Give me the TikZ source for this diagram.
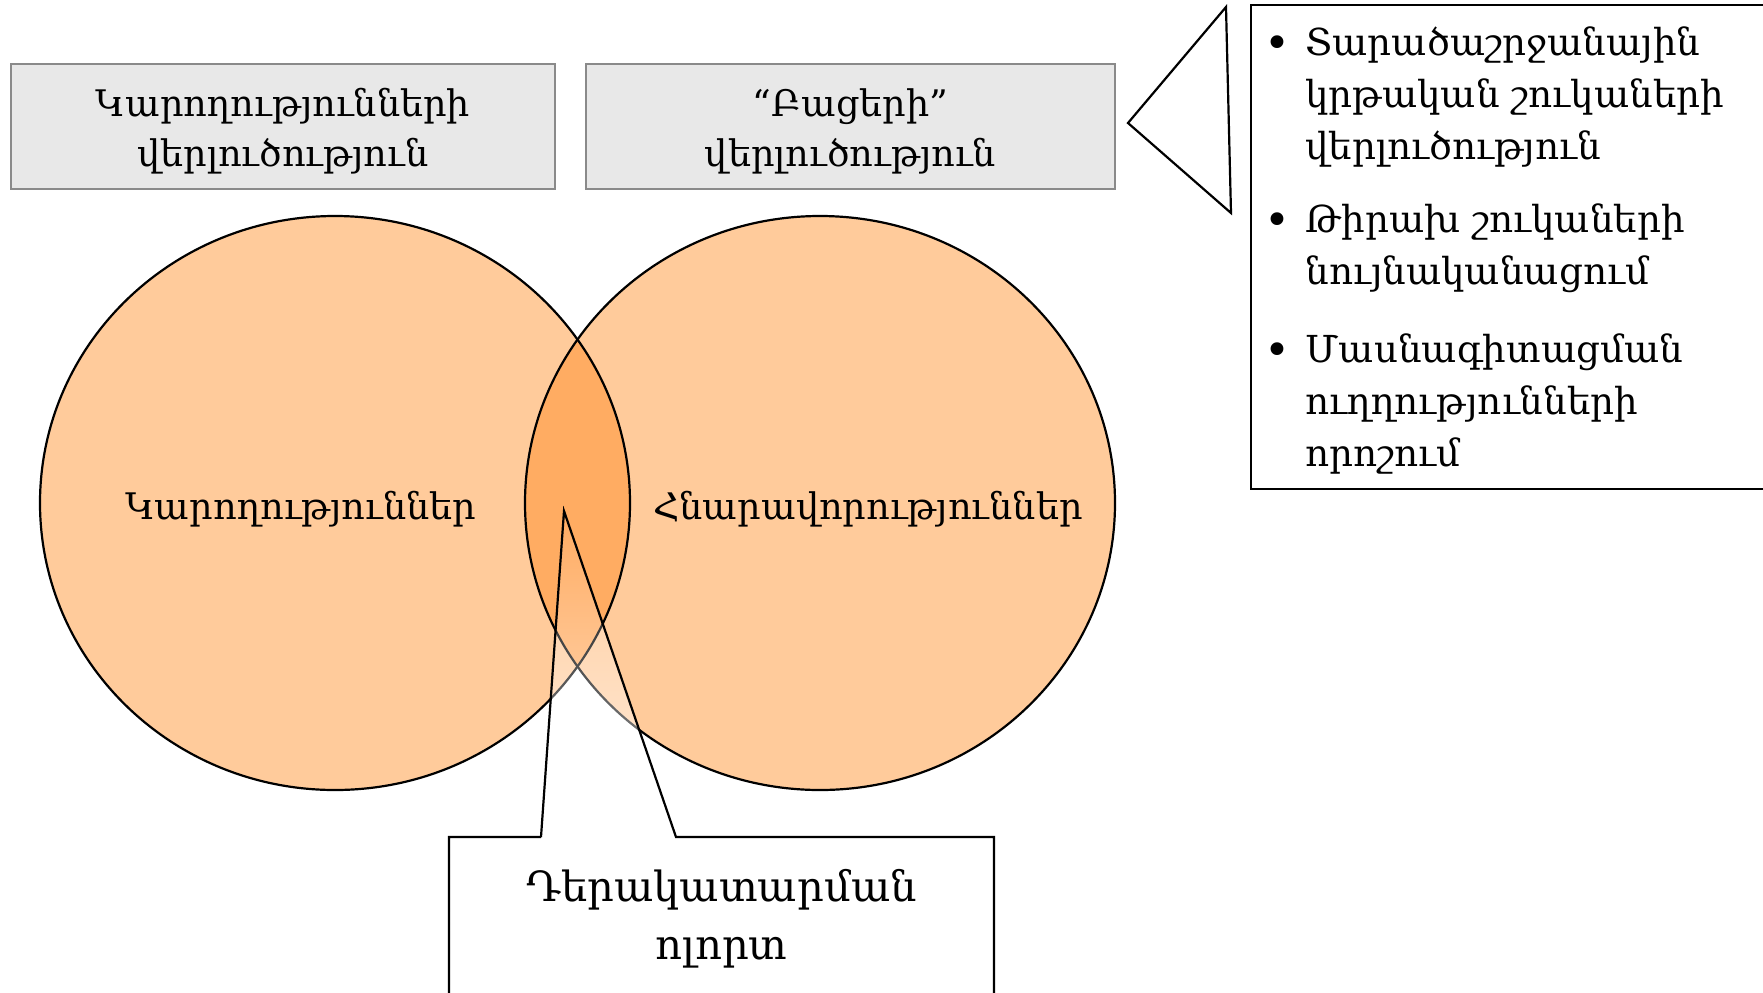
\documentclass[tikz,border=0pt]{standalone}
\usepackage{fontspec}
\setmainfont{DejaVu Serif}
\usetikzlibrary{fadings}
\definecolor{boxgray}{HTML}{E8E8E8}
\definecolor{boxline}{HTML}{8A8A8A}
\definecolor{peach}{HTML}{FFCB9B}
\definecolor{lensc}{HTML}{FFAC62}
\tikzfading[name=calloutfade, top color=transparent!100, middle color=transparent!15, bottom color=transparent!0]
\begin{document}
\begin{tikzpicture}[x=0.5pt,y=-0.5pt,
  hdr/.style={draw=boxline, line width=1.3pt, fill=boxgray, minimum height=62.5pt, align=center, font=\fontsize{18.3}{25}\selectfont, inner sep=0pt},
  lbl/.style={font=\fontsize{18.3}{25}\selectfont},
  item/.style={anchor=base west, align=left, font=\fontsize{18.6}{26}\selectfont, inner sep=0pt},
  bul/.style={anchor=base, font=\fontsize{22}{26}\selectfont, inner sep=0pt},
  edge/.style={draw=black, line width=1.1pt}]
\useasboundingbox (0,0) rectangle (1763,992);
% header boxes
\node[hdr, minimum width=272pt] (h1) at (283,126.5) {};
\node[align=center, font=\fontsize{18.3}{25}\selectfont] (h1t) at (283,131) {Կարողությունների\\վերլուծություն};
\node[hdr, minimum width=264.5pt] (h2) at (850.5,126.5) {};
\node[align=center, font=\fontsize{18.3}{25}\selectfont] (h2t) at (850.5,131) {“Բացերի”\\վերլուծություն};
% triangle callout
\draw[edge, fill=white] (1128,123) -- (1226,7) -- (1231,213) -- cycle;
% right box
\draw[edge] (1780,5) -- (1251,5) -- (1251,489) -- (1780,489);
\node[bul] (b1) at (1277,58) {•};
\node[item] (t1) at (1305,159) {Տարածաշրջանային\\կրթական շուկաների\\վերլուծություն};
\node[bul] (b2) at (1277,235) {•};
\node[item] (t2) at (1305,284) {Թիրախ շուկաների\\նույնականացում};
\node[bul] (b3) at (1277,365) {•};
\node[item] (t3) at (1305,466) {Մասնագիտացման\\ուղղությունների\\որոշում};
% circles
\fill[peach] (335,503) ellipse [x radius=295, y radius=287];
\fill[peach] (820,503) ellipse [x radius=295, y radius=287];
\begin{scope}
  \clip (335,503) ellipse [x radius=295, y radius=287];
  \fill[lensc] (820,503) ellipse [x radius=295, y radius=287];
\end{scope}
\draw[edge] (335,503) ellipse [x radius=295, y radius=287];
\draw[edge] (820,503) ellipse [x radius=295, y radius=287];
\node[lbl] (c1) at (301,509) {Կարողություններ};
\node[lbl] (c2) at (868,509) {Հնարավորություններ};
% bottom callout
\fill[white, path fading=calloutfade] (541,837) -- (564,511) -- (676,837) -- (994,837) -- (994,1000) -- (449,1000) -- (449,837) -- cycle;
\draw[edge] (541,837) -- (564,511) -- (676,837) -- (994,837) -- (994,1000) (449,1000) -- (449,837) -- (541,837);
\node[align=center, font=\fontsize{20.8}{29}\selectfont] (r) at (721.5,919) {Դերակատարման\\ոլորտ};
\end{tikzpicture}
\end{document}
